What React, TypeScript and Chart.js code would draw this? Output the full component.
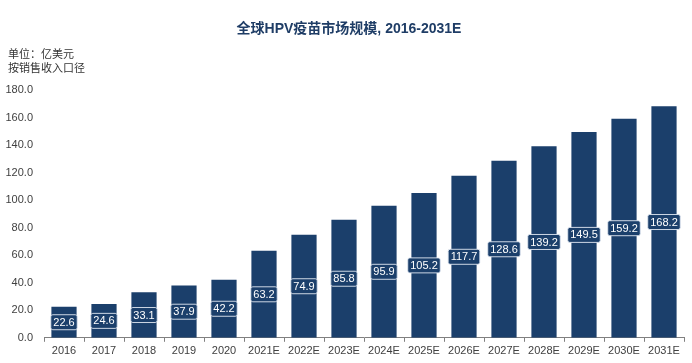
import React, { useEffect, useRef } from "react";
import { Chart, registerables } from "chart.js";

Chart.register(...registerables);

const categories = [
  "2016", "2017", "2018", "2019", "2020", "2021E", "2022E", "2023E",
  "2024E", "2025E", "2026E", "2027E", "2028E", "2029E", "2030E", "2031E",
];
const marketSize = [
  22.6, 24.6, 33.1, 37.9, 42.2, 63.2, 74.9, 85.8,
  95.9, 105.2, 117.7, 128.6, 139.2, 149.5, 159.2, 168.2,
];
const titleText = "全球HPV疫苗市场规模, 2016-2031E";
const unitLines = ["单位：亿美元", "按销售收入口径"];

const NAVY = "#1b3f6b";
const FONT = "'Liberation Sans', Arial, 'Noto Sans CJK SC', sans-serif";

const textPlugin = {
  id: "textPlugin",
  afterDraw(chart: any) {
    const ctx = chart.ctx;
    ctx.save();
    ctx.fillStyle = "#1f3d66";
    ctx.font = `bold 14px ${FONT}`;
    ctx.textAlign = "center";
    ctx.textBaseline = "middle";
    ctx.fillText(titleText, 349, 29);
    ctx.fillStyle = "#333333";
    ctx.font = `11px ${FONT}`;
    ctx.textAlign = "left";
    unitLines.forEach((l, i) => ctx.fillText(l, 8, 55 + i * 14));
    ctx.restore();
  },
};

const labelPlugin = {
  id: "labelPlugin",
  afterDatasetsDraw(chart: any) {
    const ctx = chart.ctx;
    const meta = chart.getDatasetMeta(0);
    const data = chart.data.datasets[0].data as number[];
    ctx.save();
    ctx.font = `11px ${FONT}`;
    ctx.textAlign = "center";
    ctx.textBaseline = "middle";
    meta.data.forEach((bar: any, i: number) => {
      const txt = data[i].toFixed(1);
      const cx = bar.x;
      const cy = (bar.y + bar.base) / 2;
      const w = ctx.measureText(txt).width + 5;
      const h = 15;
      const x0 = cx - w / 2;
      const y0 = cy - h / 2;
      ctx.beginPath();
      (ctx as any).roundRect(x0, y0, w, h, 2);
      ctx.fillStyle = NAVY;
      ctx.fill();
      ctx.lineWidth = 1;
      ctx.strokeStyle = "rgba(225,232,242,0.9)";
      ctx.stroke();
      ctx.fillStyle = "#ffffff";
      ctx.fillText(txt, cx, cy + 0.5);
    });
    ctx.restore();
  },
};

export default function App() {
  const ref = useRef<HTMLCanvasElement>(null);
  useEffect(() => {
    if (!ref.current) return;
    const chart = new Chart(ref.current, {
      type: "bar",
      data: {
        labels: categories,
        datasets: [
          {
            data: marketSize,
            backgroundColor: NAVY,
            categoryPercentage: 1,
            barPercentage: 0.63,
          },
        ],
      },
      options: {
        responsive: false,
        animation: false,
        layout: { padding: { top: 90, left: 0, right: 8, bottom: 2 } },
        plugins: {
          legend: { display: false },
          title: { display: false },
          tooltip: { enabled: false },
        },
        scales: {
          x: {
            border: { display: true, color: "#808080", width: 1 },
            grid: {
              display: true,
              drawOnChartArea: false,
              drawTicks: true,
              tickLength: 4,
              color: "#808080",
            },
            ticks: {
              color: "#404040",
              font: { size: 11, family: FONT },
              padding: 3,
              maxRotation: 0,
              autoSkip: false,
            },
          },
          y: {
            min: 0,
            max: 180,
            border: { display: false },
            grid: { display: false, drawTicks: false },
            afterFit: (s: any) => {
              s.width = 44;
            },
            ticks: {
              stepSize: 20,
              color: "#404040",
              font: { size: 11, family: FONT },
              padding: 11,
              callback: (v: any) => Number(v).toFixed(1),
            },
          },
        },
      },
      plugins: [textPlugin, labelPlugin],
    });
    return () => chart.destroy();
  }, []);
  return (
    <div style={{ position: "fixed", left: 0, top: 0, width: 692, height: 363, background: "#fff" }}>
      <canvas ref={ref} width={692} height={363} />
    </div>
  );
}
